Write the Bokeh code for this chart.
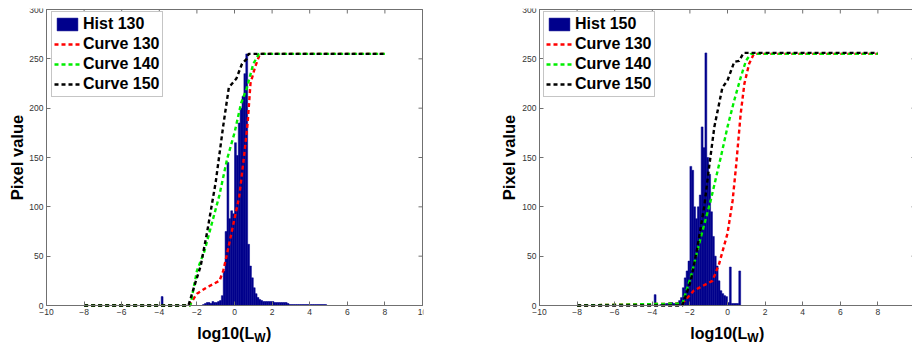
import math
from bokeh.plotting import figure
from bokeh.models import Range1d, FixedTicker, Label, Legend, LegendItem
from bokeh.layouts import row
from bokeh.embed import file_html
from bokeh.resources import INLINE

# ---------------- data ----------------
x_ticks = [-10, -8, -6, -4, -2, 0, 2, 4, 6, 8, 10]
y_ticks = [0, 50, 100, 150, 200, 250, 300]
bin_width = 0.1

# Left panel: histogram of image 130 (bin centres, counts)
hist130_x = [-3.85,
             -1.65, -1.55, -1.45, -1.35, -1.25, -1.15, -1.05, -0.95, -0.85, -0.75,
             -0.65, -0.55, -0.45, -0.35, -0.25, -0.15, -0.05, 0.05, 0.15, 0.25,
             0.35, 0.45, 0.55, 0.65, 0.75, 0.85, 0.95, 1.05, 1.15, 1.25,
             1.35, 1.45, 1.55, 1.65, 1.75, 1.85, 1.95, 2.05, 2.15, 2.25,
             2.35, 2.45, 2.55, 2.65, 2.75, 2.85, 2.95, 3.05, 3.15, 3.25,
             3.35, 3.45, 3.55, 3.65, 3.75, 3.85, 3.95, 4.05, 4.15, 4.25,
             4.35, 4.45, 4.55, 4.65, 4.75, 4.85]
hist130_y = [9,
             1, 2, 3, 3, 2, 4, 3, 3, 4, 5,
             10, 35, 75, 145, 88, 96, 93, 165, 152, 185,
             200, 212, 235, 255, 62, 40, 28, 18, 12, 8,
             6, 5, 4, 4, 4, 4, 4, 4, 3, 3,
             3, 3, 3, 3, 3, 2, 1, 1, 1, 1,
             1, 1, 1, 1, 1, 1, 1, 1, 1, 1,
             1, 1, 1, 1, 1, 1]

# Right panel: histogram of image 150
hist150_x = [-3.85,
             -3.55, -3.45, -3.35, -3.25, -3.15, -3.05, -2.95, -2.85, -2.75, -2.65,
             -2.55, -2.45, -2.35, -2.25, -2.15, -2.05, -1.95, -1.85, -1.75, -1.65,
             -1.55, -1.45, -1.35, -1.25, -1.15, -1.05, -0.95, -0.85, -0.75, -0.65,
             -0.55, -0.45, -0.35, -0.25, -0.15, -0.05, 0.05, 0.15, 0.25, 0.35,
             0.45, 0.55, 0.65]
hist150_y = [11,
             1, 1, 1, 2, 2, 3, 3, 2, 2, 3,
             5, 8, 18, 28, 35, 45, 141, 137, 100, 88,
             100, 112, 181, 160, 256, 150, 133, 95, 70, 50,
             40, 25, 15, 12, 10, 9, 3, 39, 2, 2,
             2, 2, 35]

# Left panel curves
L_c130_x = [-8, -2.4, -2.0, -1.5, -0.8, -0.6, -0.4, 0.0, 0.25, 0.5, 0.7, 0.85, 1.1, 1.35, 8]
L_c130_y = [0, 0, 12, 18, 25, 35, 52, 88, 110, 150, 185, 225, 242, 255, 255]
L_c140_x = [-8, -2.35, -2.0, -1.6, -1.25, -0.8, -0.4, 0.0, 0.35, 0.65, 1.0, 1.3, 8]
L_c140_y = [0, 0, 35, 55, 80, 112, 148, 175, 205, 220, 245, 255, 255]
L_c150_x = [-8, -2.45, -2.05, -1.8, -1.45, -1.0, -0.6, -0.3, 0.1, 0.4, 0.65, 0.75, 8]
L_c150_y = [0, 0, 25, 40, 75, 125, 182, 221, 230, 245, 250, 255, 255]

# Right panel curves
R_c130_x = [-8, -2.4, -1.8, -0.8, -0.45, 0.0, 0.27, 0.45, 0.7, 0.9, 1.15, 1.4, 8]
R_c130_y = [0, 2, 15, 25, 42, 73, 106, 140, 194, 225, 245, 255, 255]
R_c140_x = [-8, -2.4, -1.95, -1.42, -0.9, -0.36, 0.0, 0.36, 0.7, 0.98, 1.24, 8]
R_c140_y = [0, 2, 29, 69, 106, 150, 181, 208, 231, 248, 255, 255]
R_c150_x = [-8, -2.4, -1.95, -1.6, -1.24, -0.98, -0.7, -0.27, 0.0, 0.36, 0.62, 0.85, 8]
R_c150_y = [0, 0, 25, 59, 100, 140, 181, 221, 228, 247, 248, 256, 256]

# ---------------- styling / layout (pixels) ----------------
FONT = "Liberation Sans"
AX_COL = "#707070"
HIST_COL = "#00008c"
FIG_H = 343
TOP_PAD = 9      # px from figure top to y = 300
BOT_PAD = 38     # px from y = 0 down to the figure bottom
PLOT_W = 376     # px between x = -10 and x = 10
TICK_LEN = 4
LEG_H = 84


def make_fig(fig_w, frame_l, leg_dx, ylab_dx, hist_x, hist_y, hist_label, curves):
    x0, x1 = x_ticks[0], x_ticks[-1]
    y0, y1 = y_ticks[0], y_ticks[-1]
    sx = PLOT_W / (x1 - x0)
    sy = (FIG_H - TOP_PAD - BOT_PAD) / (y1 - y0)
    frame_w = min(frame_l + PLOT_W + 1, fig_w)
    frame_h = FIG_H - (TOP_PAD - 1)

    p = figure(width=fig_w, height=FIG_H,
               x_range=Range1d(x0 - frame_l / sx, x0 + (frame_w - frame_l) / sx),
               y_range=Range1d(y0 - BOT_PAD / sy, y1 + 1 / sy),
               output_backend="svg", toolbar_location=None,
               min_border_left=0, min_border_right=fig_w - frame_w,
               min_border_top=TOP_PAD - 1, min_border_bottom=0)
    p.xgrid.visible = False
    p.ygrid.visible = False
    p.outline_line_color = None
    p.background_fill_color = "white"
    p.border_fill_color = "white"

    p.xaxis.ticker = FixedTicker(ticks=x_ticks)
    p.yaxis.ticker = FixedTicker(ticks=y_ticks)
    p.xaxis.fixed_location = y0
    p.yaxis.fixed_location = x0
    p.xaxis.bounds = (x0, x1)
    p.yaxis.bounds = (y0, y1)
    for ax in p.xaxis + p.yaxis:
        ax.major_tick_in = TICK_LEN
        ax.major_tick_out = 0
        ax.minor_tick_line_color = None
        ax.axis_line_color = AX_COL
        ax.major_tick_line_color = AX_COL
        ax.major_label_text_font = FONT
        ax.major_label_text_color = "#333333"
        ax.major_label_text_font_size = "8.5px"
        ax.major_label_standoff = 3

    # box (top & right edges) and mirrored ticks
    p.quad(left=x0, right=x1, bottom=y0, top=y1, fill_color=None,
           line_color=AX_COL, line_width=1)
    p.segment(x0=x_ticks, y0=[y1] * len(x_ticks), x1=x_ticks,
              y1=[y1 - TICK_LEN / sy] * len(x_ticks), line_color=AX_COL)
    p.segment(x0=[x1] * len(y_ticks), y0=y_ticks, x1=[x1 - TICK_LEN / sx] * len(y_ticks),
              y1=y_ticks, line_color=AX_COL)

    lefts = [c - bin_width / 2 for c in hist_x]
    rights = [c + bin_width / 2 for c in hist_x]
    q = p.quad(left=lefts, right=rights, bottom=0, top=hist_y,
               fill_color=HIST_COL, line_color=HIST_COL, line_width=0.5)

    items = [LegendItem(label=hist_label, renderers=[q])]
    for (cx, cy, col, lab) in curves:
        r = p.line(cx, cy, line_color=col, line_width=2.4, line_dash="4 3")
        items.append(LegendItem(label=lab, renderers=[r]))

    legend = Legend(items=items,
                    location=(frame_l + leg_dx, frame_h - 5 - LEG_H),
                    margin=0, padding=2,
                    spacing=0, glyph_width=26, glyph_height=16, label_height=20,
                    label_standoff=3, label_text_font=FONT,
                    label_text_font_style="bold", label_text_font_size="16px",
                    label_text_color="black",
                    border_line_color="#8c8c8c", border_line_width=1,
                    background_fill_color="white", background_fill_alpha=1)
    p.add_layout(legend)

    # y-axis title
    p.add_layout(Label(x=x0, y=(y0 + y1) / 2, x_offset=ylab_dx, text="Pixel value",
                       angle=math.pi / 2, text_font=FONT, text_font_style="bold",
                       text_font_size="16.5px", text_color="black",
                       text_align="center", text_baseline="middle"))

    # x-axis title with subscript
    for txt, dx, dy, size in [("log10(L", -37.2, -28, "16px"),
                              ("W", 19.7, -32, "12px"),
                              (")", 31.5, -28, "16px")]:
        p.add_layout(Label(x=(x0 + x1) / 2, y=y0, x_offset=dx, y_offset=dy, text=txt,
                           text_font=FONT, text_font_style="bold",
                           text_font_size=size, text_color="black",
                           text_align="left", text_baseline="alphabetic"))
    return p


p1 = make_fig(495, 46, 5, -29.5, hist130_x, hist130_y, "Hist 130",
              [(L_c130_x, L_c130_y, "#ff0000", "Curve 130"),
               (L_c140_x, L_c140_y, "#00ee00", "Curve 140"),
               (L_c150_x, L_c150_y, "black", "Curve 150")])
p2 = make_fig(417, 44, 4, -30.5, hist150_x, hist150_y, "Hist 150",
              [(R_c130_x, R_c130_y, "#ff0000", "Curve 130"),
               (R_c140_x, R_c140_y, "#00ee00", "Curve 140"),
               (R_c150_x, R_c150_y, "black", "Curve 150")])

layout = row(p1, p2)
open("out.html", "w").write(file_html(layout, INLINE))
